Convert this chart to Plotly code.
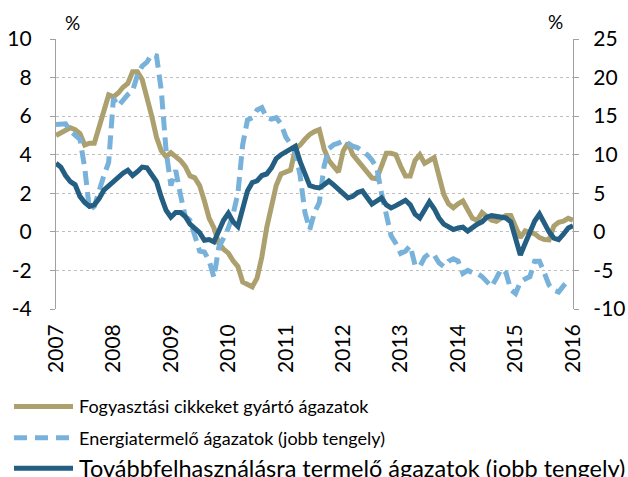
import plotly.graph_objects as go

# Monthly observations, January 2007 - January 2016
start_year = 2007

# Fogyasztási cikkeket gyártó ágazatok (left axis, %)
fogyasztasi = [
    5.0, 5.15, 5.3, 5.4, 5.3, 5.1, 4.5, 4.6, 4.6, 5.4, 6.4, 7.1,
    7.0, 7.2, 7.5, 7.7, 8.3, 8.3, 7.9, 7.0, 6.0, 4.9, 4.2, 3.9,
    4.1, 3.9, 3.7, 3.4, 2.9, 2.8, 2.4, 1.6, 0.7, 0.2, -0.6, -0.9,
    -1.1, -1.5, -1.8, -2.6, -2.7, -2.85, -2.4, -1.3, 0.2, 1.4, 2.4, 3.0,
    3.1, 3.2, 4.3, 4.5, 4.8, 5.05, 5.2, 5.3, 4.3, 3.7, 3.4, 3.1,
    4.2, 4.6, 4.0, 3.7, 3.5, 3.15, 2.8, 2.75, 3.4, 4.07, 4.07, 4.0,
    3.4, 2.9, 2.9, 3.7, 4.0, 3.55, 3.7, 3.85, 2.9, 1.95, 1.45, 1.25,
    1.45, 1.6, 1.15, 0.7, 0.6, 1.0, 0.8, 0.6, 0.55, 0.7, 0.85, 0.85,
    0.25, -0.3, 0.05, 0.0, -0.1, -0.3, -0.4, -0.42, 0.3, 0.5, 0.55, 0.7,
    0.6,
]

# Energiatermelő ágazatok (right axis, %)
energia = [
    13.9, 14.0, 14.0, 13.1, 12.6, 12.0, 8.3, 2.8, 3.3, 5.5, 7.3, 9.0,
    17.3, 16.3, 17.1, 17.8, 18.3, 20.3, 21.5, 22.0, 23.0, 22.8, 18.3, 10.5,
    6.0, 8.0, 4.8, 2.0, 1.5, -0.5, -2.5, -2.6, -3.8, -5.9, -2.0, -0.8,
    0.5, 2.3, 5.0, 11.3, 14.5, 14.8, 15.8, 16.1, 14.8, 14.6, 14.8, 14.0,
    12.3, 11.4, 10.3, 7.3, 2.5, 0.3, 2.5, 3.8, 8.5, 10.8, 11.3, 11.5,
    11.8, 11.5, 11.1, 10.9, 10.5, 10.0, 9.3, 8.3, 5.0, 2.0, -0.5, -1.5,
    -2.8, -2.5, -1.8, -4.3, -4.5, -3.3, -2.8, -3.0, -4.0, -4.5, -3.8, -3.5,
    -3.8, -5.4, -5.0, -5.3, -5.4, -5.8, -6.4, -7.1, -6.0, -4.8, -5.3, -7.5,
    -8.0, -6.5, -6.1, -5.8, -3.8, -3.8, -5.3, -6.9, -7.6, -7.8, -7.0, -6.3,
]

# Továbbfelhasználásra termelő ágazatok (right axis, %)
tovabb = [
    8.9, 8.4, 7.3, 6.5, 6.1, 4.6, 3.8, 3.3, 3.5, 4.3, 5.4, 6.0,
    6.4, 7.1, 7.6, 8.0, 7.3, 7.8, 8.4, 8.3, 7.5, 6.5, 4.5, 2.8,
    1.9, 2.5, 2.5, 2.0, 1.0, 0.5, -0.1, -1.1, -1.0, -1.3, 0.3, 1.5,
    2.4, 1.3, 0.7, 3.3, 5.3, 6.4, 6.6, 7.3, 7.5, 8.3, 9.5, 10.0,
    10.4, 10.8, 11.1, 9.1, 7.3, 6.0, 5.8, 5.7, 6.1, 6.6, 6.1, 5.5,
    4.9, 4.4, 4.6, 5.1, 5.3, 4.4, 3.6, 4.0, 4.4, 3.5, 3.1, 3.4,
    3.8, 4.1, 3.5, 2.3, 1.8, 3.0, 3.9, 3.0, 1.8, 1.0, 0.6, 0.3,
    0.5, 0.6, 0.1, 0.6, 1.0, 1.3, 1.9, 2.1, 2.0, 1.9, 1.8, 1.3,
    -0.8, -3.0, -1.5, 0.0, 1.4, 2.3, 1.1, 0.0, -0.8, -1.0, -0.3, 0.5,
    0.8,
]

series_names = [
    "Fogyasztási cikkeket gyártó ágazatok",
    "Energiatermelő ágazatok (jobb tengely)",
    "Továbbfelhasználásra termelő ágazatok (jobb tengely)",
]

year_ticks = list(range(2007, 2017))
year_labels = [str(y) for y in year_ticks]
left_ticks = [-4, -2, 0, 2, 4, 6, 8, 10]
left_labels = [str(v) for v in left_ticks]
right_ticks = [-10, -5, 0, 5, 10, 15, 20, 25]
right_labels = [str(v) for v in right_ticks]

TAN = "#ADA06F"
LIGHT = "#78B2DA"
DARK = "#245E82"
AXIS = "#A0A0A0"
GRID = "#BFBFBF"
FONT = "Lato"


def xdec(n):
    return [start_year + i / 12 for i in range(n)]


W, H = 628, 477
L, R, T, B = 56, 55.3, 39.3, 167.7
PW, PH = W - L - R, H - T - B


def px(x):
    return (x - L) / PW


def py(y):
    return (H - B - y) / PH


fig = go.Figure()
fig.add_trace(go.Scatter(
    x=xdec(len(fogyasztasi)), y=fogyasztasi, name=series_names[0],
    mode="lines", line=dict(color=TAN, width=5), yaxis="y",
))
fig.add_trace(go.Scatter(
    x=xdec(len(energia)), y=energia, name=series_names[1],
    mode="lines", line=dict(color=LIGHT, width=5, dash="14px,7px"), yaxis="y2",
))
fig.add_trace(go.Scatter(
    x=xdec(len(tovabb)), y=tovabb, name=series_names[2],
    mode="lines", line=dict(color=DARK, width=5), yaxis="y2",
))

# hand-drawn legend below the plot
legend_rows = [
    (406.7, TAN, "solid", 18),
    (438.0, LIGHT, "13px,8px", 18),
    (468.5, DARK, "solid", 23.5),
]
shapes = []
annotations = []
for (ypix, col, dash, fsize), name in zip(legend_rows, series_names):
    shapes.append(dict(type="line", xref="paper", yref="paper",
                       x0=px(14), x1=px(73), y0=py(ypix), y1=py(ypix),
                       line=dict(color=col, width=5, dash=dash)))
    annotations.append(dict(x=px(77), y=py(ypix), xref="paper", yref="paper",
                            text=name, showarrow=False, xanchor="left", yanchor="middle",
                            font=dict(family=FONT, size=fsize, color="#000000")))

# unit labels above each value axis
for xpix, ypix in [(72.5, 23), (555, 22)]:
    annotations.append(dict(x=px(xpix), y=py(ypix), xref="paper", yref="paper", text="%",
                            showarrow=False, xanchor="center", yanchor="middle",
                            font=dict(family=FONT, size=19, color="#000")))

fig.update_layout(
    width=W, height=H,
    margin=dict(l=L, r=R, t=T, b=B, pad=0, autoexpand=False),
    paper_bgcolor="white", plot_bgcolor="white",
    showlegend=False,
    font=dict(family=FONT, size=21, color="#000"),
    xaxis=dict(
        range=[2007, 2016], tickvals=year_ticks, ticktext=year_labels,
        tickangle=-90, showgrid=False, zeroline=False, showline=False,
        ticks="", ticklabelstandoff=10, tickfont=dict(family=FONT, size=21),
        automargin=False,
    ),
    xaxis2=dict(
        range=[2007, 2016], overlaying="x", anchor="free", position=4 / 14,
        tickvals=year_ticks, showticklabels=False, showgrid=False, zeroline=False,
        showline=True, linecolor=AXIS, linewidth=1.3,
        ticks="outside", ticklen=6, tickcolor=AXIS, tickwidth=1.3,
        automargin=False,
    ),
    yaxis=dict(
        range=[-4, 10], tickvals=left_ticks, ticktext=left_labels,
        showgrid=True, gridcolor=GRID, griddash="dot", gridwidth=1,
        zeroline=False, showline=True, linecolor=AXIS, linewidth=1.3,
        ticks="outside", ticklen=5, tickcolor=AXIS, tickwidth=1.3,
        ticklabelstandoff=14, tickfont=dict(family=FONT, size=21),
        automargin=False,
    ),
    yaxis2=dict(
        range=[-10, 25], tickvals=right_ticks, ticktext=right_labels,
        overlaying="y", side="right", showgrid=False, zeroline=False,
        showline=True, linecolor=AXIS, linewidth=1.3,
        ticks="outside", ticklen=5, tickcolor=AXIS, tickwidth=1.3,
        ticklabelstandoff=10, tickfont=dict(family=FONT, size=21),
        automargin=False,
    ),
    shapes=shapes,
    annotations=annotations,
)

fig.write_html("out.html")
